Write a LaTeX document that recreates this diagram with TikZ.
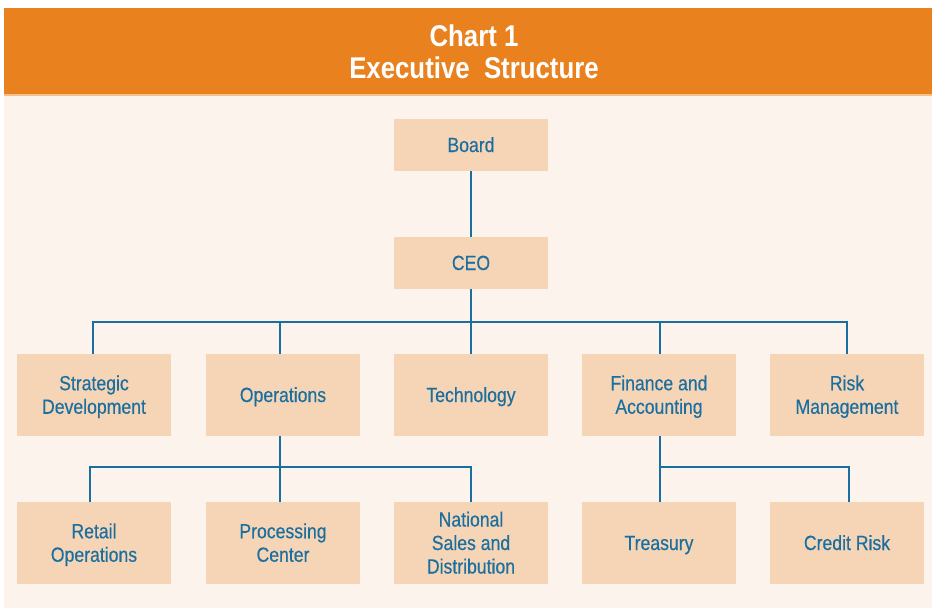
\documentclass[tikz,border=0pt]{standalone}
\usepackage{fontspec}
\setmainfont{Liberation Sans}[FakeStretch=0.86,FakeBold=0.35]
\newfontfamily\titlefont{Liberation Sans}[FakeStretch=0.86]
\definecolor{hdrorange}{HTML}{E8811E}
\definecolor{hdrline}{HTML}{F4C08C}
\definecolor{pagebg}{HTML}{FCF3ED}
\definecolor{boxfill}{HTML}{F6D5B6}
\definecolor{inkblue}{HTML}{1A6FA0}
% fixed line height and depth so every label sits at the same place
\newcommand{\ls}{\rule[-4.3pt]{0pt}{22.6pt}}
\begin{document}
\begin{tikzpicture}[x=1pt,y=-1pt,
  orgbox/.style={rectangle, fill=boxfill, draw=none, inner sep=0pt,
    minimum width=154pt, minimum height=82pt, align=center,
    text=inkblue, font=\fontsize{20.5}{23.5}\selectfont},
  topbox/.style={orgbox, minimum height=52pt},
  link/.style={draw=inkblue, line width=2pt},
  titletext/.style={text=white, inner sep=0pt, anchor=base,
    font=\titlefont\bfseries\fontsize{30}{32}\selectfont}]
\useasboundingbox (0,0) rectangle (932,608);
% page background and header band
\fill[pagebg] (4,94) rectangle (932,608);
\fill[hdrorange] (4,8) rectangle (932,94);
\fill[hdrline] (4,94) rectangle (932,95.5);
\node[titletext] (title1) at (474,46) {Chart 1};
\node[titletext] (title2) at (474,78) {Executive\ \ Structure};

% boxes
\node[topbox] (board) at (471,145) {\ls Board};
\node[topbox] (ceo) at (471,263) {\ls CEO};

\node[orgbox] (strat) at (94,395) {\ls Strategic\\\ls Development};
\node[orgbox] (ops) at (283,395) {\ls Operations};
\node[orgbox] (tech) at (471,395) {\ls Technology};
\node[orgbox] (fin) at (659,395) {\ls Finance and\\\ls Accounting};
\node[orgbox] (risk) at (847,395) {\ls Risk\\\ls Management};

\node[orgbox] (retail) at (94,543) {\ls Retail\\\ls Operations};
\node[orgbox] (proc) at (283,543) {\ls Processing\\\ls Center};
\node[orgbox] (natl) at (471,543) {\ls National\\\ls Sales and\\\ls Distribution};
\node[orgbox] (treas) at (659,543) {\ls Treasury};
\node[orgbox] (credit) at (847,543) {\ls Credit Risk};

% bus levels
\coordinate (busA) at (471,322);
\coordinate (busB) at (471,467);
\coordinate (busC) at (660,467);

% connectors
\draw[link] (board.south) -- (ceo.north);
\draw[link] (ceo.south) -- (tech.north);
\draw[link] ([xshift=-1pt]strat.north) -- ([xshift=-1pt]strat.north |- busA)
  -- (risk.north |- busA) -- (risk.north);
\draw[link] ([xshift=-3pt]ops.north) -- ([xshift=-3pt]ops.north |- busA);
\draw[link] ([xshift=1pt]fin.north) -- ([xshift=1pt]fin.north |- busA);

\draw[link] ([xshift=-3pt]ops.south) -- ([xshift=-3pt]proc.north);
\draw[link] ([xshift=-4pt]retail.north) -- ([xshift=-4pt]retail.north |- busB)
  -- (natl.north |- busB) -- (natl.north);

\draw[link] ([xshift=1pt]fin.south) -- ([xshift=1pt]treas.north);
\draw[link] (busC) -- ([xshift=2pt]credit.north |- busC) -- ([xshift=2pt]credit.north);
\end{tikzpicture}
\end{document}
